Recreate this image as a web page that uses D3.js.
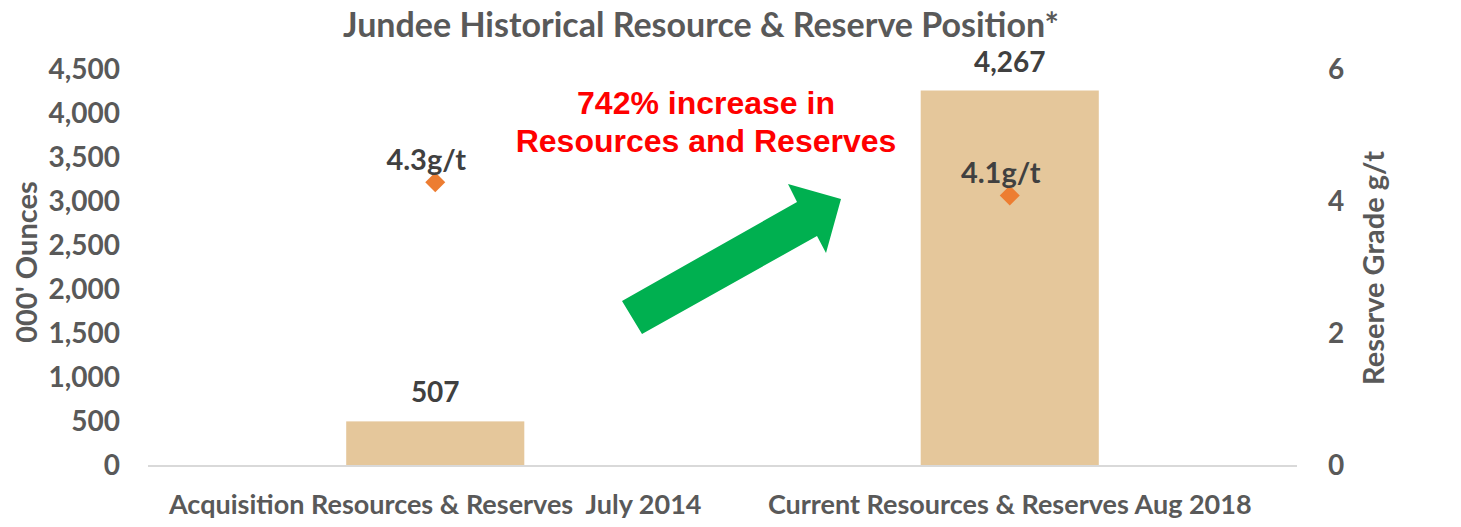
<!DOCTYPE html>
<html>
<head>
<meta charset="utf-8">
<script src="https://cdn.jsdelivr.net/npm/d3@7"></script>
<style>
    body { margin: 0; background: #fff; }
    text { font-family: Lato, "Open Sans", sans-serif; font-weight: bold; fill: #595959; }
</style>
</head>
<body>
<div id="chart-vis"></div>
<script>
// chart data
const categories = ["Acquisition Resources & Reserves\u00a0 July 2014", "Current Resources & Reserves Aug 2018"];
const ounces = [507, 4267];
const ounceLabels = ["507", "4,267"];
const grades = [4.3, 4.1];
const gradeLabels = ["4.3g/t", "4.1g/t"];
const leftTicks = [0, 500, 1000, 1500, 2000, 2500, 3000, 3500, 4000, 4500];
const rightTicks = [0, 2, 4, 6];
const titleText = "Jundee Historical Resource & Reserve Position*";
const calloutLines = ["742% increase in", "Resources and Reserves"];

class ChartVis {
    constructor(parentElement) {
        this.parentElement = parentElement;
        this.initVis();
    }

    initVis() {
        let vis = this;

        vis.width = 1461;
        vis.height = 527;
        vis.margin = { top: 70, right: 164, bottom: 61, left: 148 };

        vis.svg = d3.select("#" + vis.parentElement).append("svg")
            .attr("width", vis.width)
            .attr("height", vis.height);

        let plotW = vis.width - vis.margin.left - vis.margin.right;
        let plotH = vis.height - vis.margin.top - vis.margin.bottom;

        // scales
        vis.x = d3.scaleBand()
            .domain(categories)
            .range([vis.margin.left, vis.margin.left + plotW])
            .paddingInner(0.69)
            .paddingOuter(0.345);

        vis.y = d3.scaleLinear()
            .domain([0, 4500])
            .range([vis.margin.top + plotH, vis.margin.top]);

        vis.y2 = d3.scaleLinear()
            .domain([0, 6])
            .range([vis.margin.top + plotH, vis.margin.top]);

        // title
        vis.svg.append("text")
            .attr("x", 701)
            .attr("y", 37)
            .attr("text-anchor", "middle")
            .style("font-size", "34px")
            .text(titleText);

        // left axis (labels only)
        let leftAxis = d3.axisLeft(vis.y)
            .tickValues(leftTicks)
            .tickFormat(d3.format(","))
            .tickSize(0)
            .tickPadding(0);

        vis.svg.append("g")
            .attr("class", "axis")
            .attr("transform", "translate(120,0)")
            .call(leftAxis)
            .call(g => g.select(".domain").remove())
            .selectAll("text")
            .attr("fill", "#595959")
            .style("font-size", "28px")
            .style("font-family", "Lato, sans-serif")
            .style("font-weight", "bold");

        // right axis (labels only)
        let rightAxis = d3.axisRight(vis.y2)
            .tickValues(rightTicks)
            .tickFormat(d3.format("d"))
            .tickSize(0)
            .tickPadding(0);

        vis.svg.append("g")
            .attr("class", "axis")
            .attr("transform", "translate(1328,0)")
            .call(rightAxis)
            .call(g => g.select(".domain").remove())
            .selectAll("text")
            .attr("fill", "#595959")
            .style("font-size", "28px")
            .style("font-family", "Lato, sans-serif")
            .style("font-weight", "bold");

        // axis titles
        vis.svg.append("text")
            .attr("transform", "translate(37,262) rotate(-90)")
            .attr("text-anchor", "middle")
            .style("font-size", "29px")
            .text("000' Ounces");

        vis.svg.append("text")
            .attr("transform", "translate(1384,268) rotate(-90)")
            .attr("text-anchor", "middle")
            .style("font-size", "29px")
            .text("Reserve Grade g/t");

        // bars
        vis.svg.selectAll(".bar")
            .data(ounces)
            .enter().append("rect")
            .attr("class", "bar")
            .attr("x", (d, i) => vis.x(categories[i]))
            .attr("width", vis.x.bandwidth())
            .attr("y", d => vis.y(d))
            .attr("height", d => vis.y(0) - vis.y(d))
            .attr("fill", "#E5C79B");

        // baseline
        vis.svg.append("line")
            .attr("x1", vis.margin.left)
            .attr("x2", vis.margin.left + plotW)
            .attr("y1", vis.y(0))
            .attr("y2", vis.y(0))
            .attr("stroke", "#D9D9D9")
            .attr("stroke-width", 2);

        // bar labels
        vis.svg.selectAll(".bar-label")
            .data(ounces)
            .enter().append("text")
            .attr("class", "bar-label")
            .attr("x", (d, i) => vis.x(categories[i]) + vis.x.bandwidth() / 2)
            .attr("y", d => vis.y(d) - 19)
            .attr("text-anchor", "middle")
            .style("font-size", "28px")
            .style("fill", "#404040")
            .text((d, i) => ounceLabels[i]);

        // category labels
        vis.svg.selectAll(".cat-label")
            .data(categories)
            .enter().append("text")
            .attr("class", "cat-label")
            .attr("x", d => vis.x(d) + vis.x.bandwidth() / 2)
            .attr("y", 514)
            .attr("text-anchor", "middle")
            .style("font-size", "27px")
            .text(d => d);

        // grade markers
        vis.svg.selectAll(".grade")
            .data(grades)
            .enter().append("path")
            .attr("class", "grade")
            .attr("d", d3.symbol().type(d3.symbolSquare).size(200))
            .attr("transform", (d, i) => `translate(${vis.x(categories[i]) + vis.x.bandwidth() / 2},${vis.y2(d)}) rotate(45)`)
            .attr("fill", "#ED7D31");

        vis.svg.selectAll(".grade-label")
            .data(grades)
            .enter().append("text")
            .attr("class", "grade-label")
            .attr("x", (d, i) => vis.x(categories[i]) + vis.x.bandwidth() / 2 - 9)
            .attr("y", d => vis.y2(d) - 12)
            .attr("text-anchor", "middle")
            .style("font-size", "29px")
            .style("fill", "#404040")
            .text((d, i) => gradeLabels[i]);

        // green arrow callout
        let arrowPts = [[622, 301], [797, 202], [788, 184], [841, 199], [826, 253], [817, 236], [642, 334]];
        vis.svg.append("path")
            .attr("d", d3.line()(arrowPts) + "Z")
            .attr("fill", "#00B050");

        vis.svg.selectAll(".callout")
            .data(calloutLines)
            .enter().append("text")
            .attr("class", "callout")
            .attr("x", 706)
            .attr("y", (d, i) => 114 + i * 38)
            .attr("text-anchor", "middle")
            .style("font-family", "'Liberation Sans', Arial, sans-serif")
            .style("font-size", "32px")
            .style("fill", "#FF0000")
            .text(d => d);
    }
}

let chartVis = new ChartVis("chart-vis");
</script>
</body>
</html>
